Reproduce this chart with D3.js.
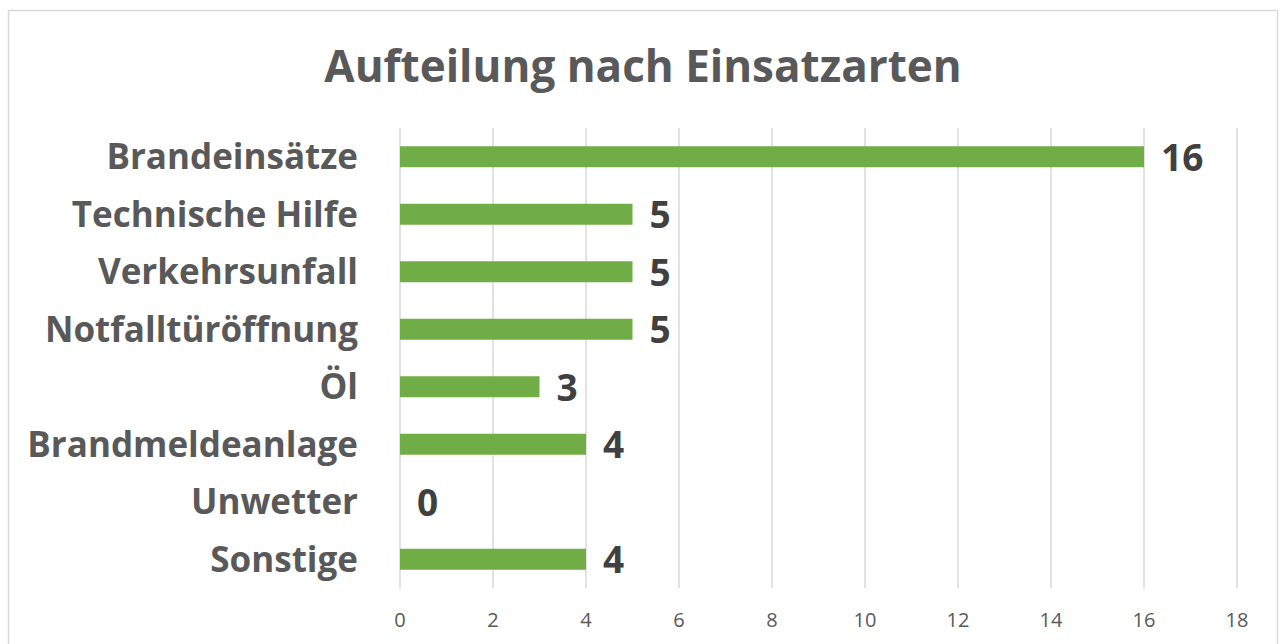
<!DOCTYPE html>
<meta charset="utf-8">
<script src="https://d3js.org/d3.v7.min.js"></script>
<style>
  body { margin: 0; background: #fff; }
  text { font-family: "Open Sans", sans-serif; }
</style>
<div id="chart"></div>
<script>
// data
var categories = ["Brandeinsätze", "Technische Hilfe", "Verkehrsunfall", "Notfalltüröffnung", "Öl", "Brandmeldeanlage", "Unwetter", "Sonstige"];
var values = [16, 5, 5, 5, 3, 4, 0, 4];
var ticks = [0, 2, 4, 6, 8, 10, 12, 14, 16, 18];

var W = 1283, H = 644;
var plot = {left: 400, right: 1237, top: 128, bottom: 588};

var svg = d3.select("#chart").append("svg")
    .attr("width", W)
    .attr("height", H);

// chart frame
svg.append("rect")
    .attr("x", 8.5).attr("y", 10.5)
    .attr("width", 1269).attr("height", 660)
    .attr("fill", "#fff")
    .attr("stroke", "#d9d9d9")
    .attr("stroke-width", 1.5);

var x = d3.scaleLinear().domain([0, 18]).range([plot.left, plot.right]);
var y = d3.scaleBand().domain(categories).range([plot.top, plot.bottom]).paddingInner(0.635).paddingOuter(0.3175);

// gridlines
svg.append("g")
  .selectAll("line")
  .data(ticks)
  .join("line")
    .attr("x1", d => x(d)).attr("x2", d => x(d))
    .attr("y1", plot.top).attr("y2", plot.bottom)
    .attr("stroke", "#d9d9d9")
    .attr("stroke-width", 1.5);

// x tick labels
svg.append("g")
  .selectAll("text")
  .data(ticks)
  .join("text")
    .attr("x", d => x(d))
    .attr("y", 620)
    .attr("dy", "0.36em")
    .attr("text-anchor", "middle")
    .attr("font-size", 20)
    .attr("fill", "#595959")
    .text(d => d);

// bars
svg.append("g")
  .selectAll("rect")
  .data(values)
  .join("rect")
    .attr("x", x(0))
    .attr("y", (d, i) => y(categories[i]))
    .attr("width", d => x(d) - x(0))
    .attr("height", y.bandwidth())
    .attr("fill", "#70ad47");

// category labels
svg.append("g")
  .selectAll("text")
  .data(categories)
  .join("text")
    .attr("x", 358)
    .attr("y", d => y(d) + y.bandwidth() / 2)
    .attr("dy", "0.36em")
    .attr("text-anchor", "end")
    .attr("font-size", 35)
    .attr("font-weight", "bold")
    .attr("fill", "#595959")
    .text(d => d);

// value labels
svg.append("g")
  .selectAll("text")
  .data(values)
  .join("text")
    .attr("x", d => x(d) + 17)
    .attr("y", (d, i) => y(categories[i]) + y.bandwidth() / 2)
    .attr("dy", "0.38em")
    .attr("font-size", 37)
    .attr("font-weight", "bold")
    .attr("fill", "#404040")
    .text(d => d);

// title
svg.append("text")
    .attr("x", 643)
    .attr("y", 82)
    .attr("text-anchor", "middle")
    .attr("font-size", 44)
    .attr("font-weight", "bold")
    .attr("fill", "#595959")
    .text("Aufteilung nach Einsatzarten");
</script>
